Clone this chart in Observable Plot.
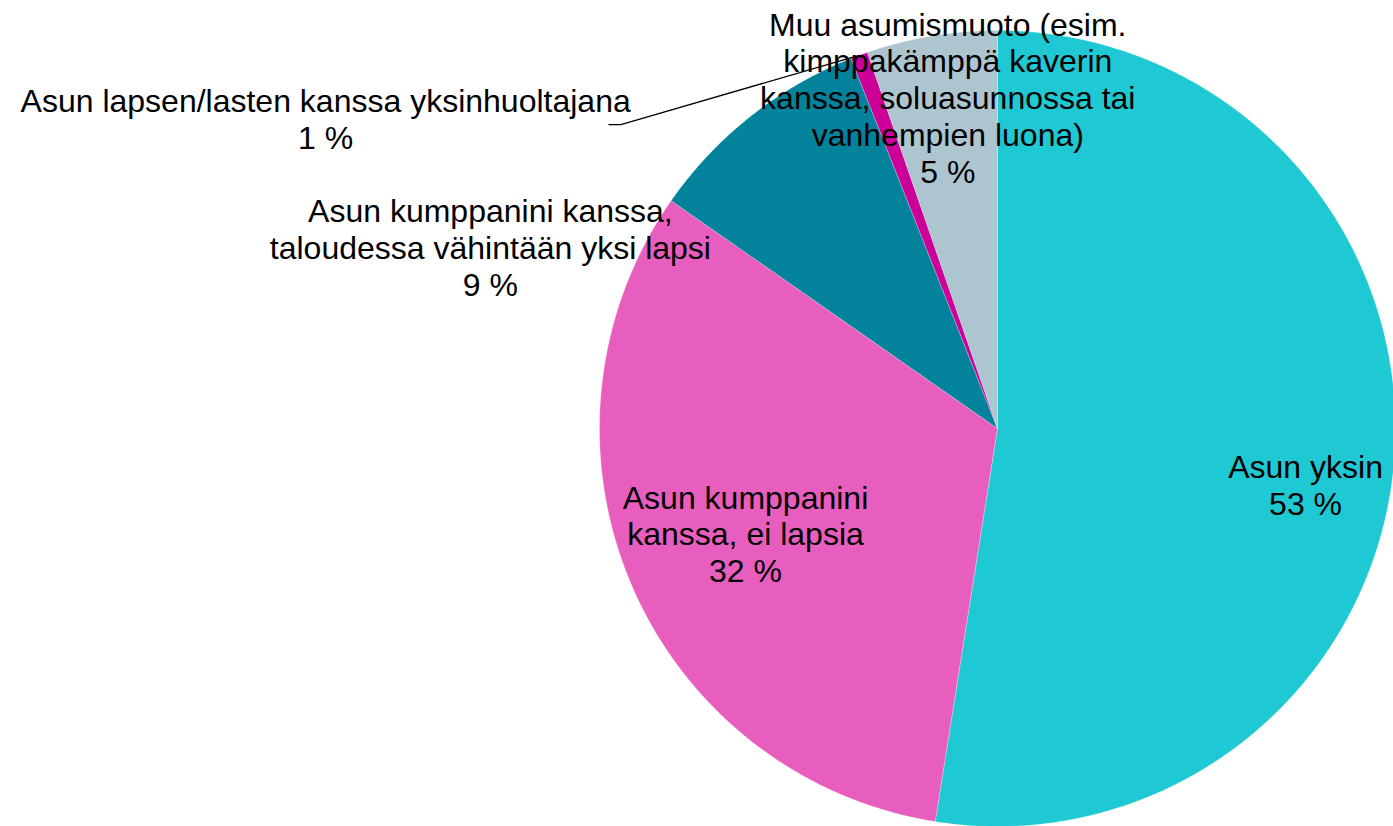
<!DOCTYPE html>
<html>
<head>
<meta charset="utf-8">
<script src="https://cdn.jsdelivr.net/npm/d3@7"></script>
<script src="https://cdn.jsdelivr.net/npm/@observablehq/plot@0.6"></script>
<style>
  html, body { margin: 0; padding: 0; background: #ffffff; }
  #chart svg { display: block; }
</style>
</head>
<body>
<div id="chart"></div>
<script>
// ---- data ----
const categories = [
  "Asun yksin",
  "Asun kumppanini kanssa, ei lapsia",
  "Asun kumppanini kanssa, taloudessa vähintään yksi lapsi",
  "Asun lapsen/lasten kanssa yksinhuoltajana",
  "Muu asumismuoto (esim. kimppakämppä kaverin kanssa, soluasunnossa tai vanhempien luona)"
];
const values = [52.5, 32.2, 9.3, 0.7, 5.3];
const colors = ["#1fc9d3", "#e85ebe", "#02839b", "#cc0099", "#adc5cf"];
const labelTexts = [
  "Asun yksin",
  "Asun kumppanini\nkanssa, ei lapsia",
  "Asun kumppanini kanssa,\ntaloudessa vähintään yksi lapsi",
  "Asun lapsen/lasten kanssa yksinhuoltajana",
  "Muu asumismuoto (esim.\nkimppakämppä kaverin\nkanssa, soluasunnossa tai\nvanhempien luona)"
];

// ---- layout (label placement relative to slice mid-angle) ----
const labelPlacement = [
  {r: 0.787, da: 5.9},
  {r: 0.686, da: 0.4},
  {r: 1.353, da: -32.0},
  {r: 1.859, da: -44.9},
  {r: 0.841, da: 1.0}
];
const leaderIndex = 3;
const leaderElbow = {r: 1.216, da: -30.76, hook: 0.03};

// ---- geometry in unit coordinates (radius 1, y up, clockwise from top) ----
const total = d3.sum(values);
const deg = Math.PI / 180;
let cum = 0;
const slices = values.map((v, i) => {
  const a0 = cum / total * 2 * Math.PI;
  cum += v;
  const a1 = cum / total * 2 * Math.PI;
  return {i, name: categories[i], value: v, a0, a1, mid: (a0 + a1) / 2};
});

const polyPoints = [];
for (const s of slices) {
  polyPoints.push({name: s.name, x: 0, y: 0});
  const n = Math.max(2, Math.ceil((s.a1 - s.a0) / (0.25 * deg)));
  for (let k = 0; k <= n; k++) {
    const a = s.a0 + (s.a1 - s.a0) * k / n;
    polyPoints.push({name: s.name, x: Math.sin(a), y: Math.cos(a)});
  }
  polyPoints.push({name: s.name, x: 0, y: 0});
}

const labels = slices.map((s, i) => {
  const p = labelPlacement[i];
  const a = s.mid + p.da * deg;
  return {
    x: p.r * Math.sin(a),
    y: p.r * Math.cos(a),
    text: labelTexts[i] + "\n" + Math.round(s.value) + " %"
  };
});

const ls = slices[leaderIndex];
const ea = ls.mid + leaderElbow.da * deg;
const ex = leaderElbow.r * Math.sin(ea), ey = leaderElbow.r * Math.cos(ea);
const leader = [
  {x: Math.sin(ls.mid), y: Math.cos(ls.mid)},
  {x: ex, y: ey},
  {x: ex - leaderElbow.hook, y: ey}
];

// ---- plot ----
const W = 1393, H = 826, R = 398, CX = 997, CY = 428;
const chart = Plot.plot({
  width: W,
  height: H,
  margin: 0,
  x: {domain: [-CX / R, (W - CX) / R], range: [0, W], axis: null},
  y: {domain: [-(H - CY) / R, CY / R], range: [H, 0], axis: null},
  color: {domain: categories, range: colors},
  style: {background: "#ffffff", overflow: "visible"},
  marks: [
    Plot.line(polyPoints, {x: "x", y: "y", z: "name", fill: "name", stroke: "#ffffff", strokeWidth: 0.4, strokeOpacity: 0.6, curve: "linear"}),
    Plot.line(leader, {x: "x", y: "y", stroke: "#000000", strokeWidth: 1.3}),
    Plot.text(labels, {
      x: "x", y: "y", text: "text",
      fontSize: 32, lineHeight: 1.15,
      fontFamily: "'Liberation Sans', Arial, sans-serif",
      fill: "#000000", textAnchor: "middle"
    })
  ]
});
document.getElementById("chart").appendChild(chart);
</script>
</body>
</html>
